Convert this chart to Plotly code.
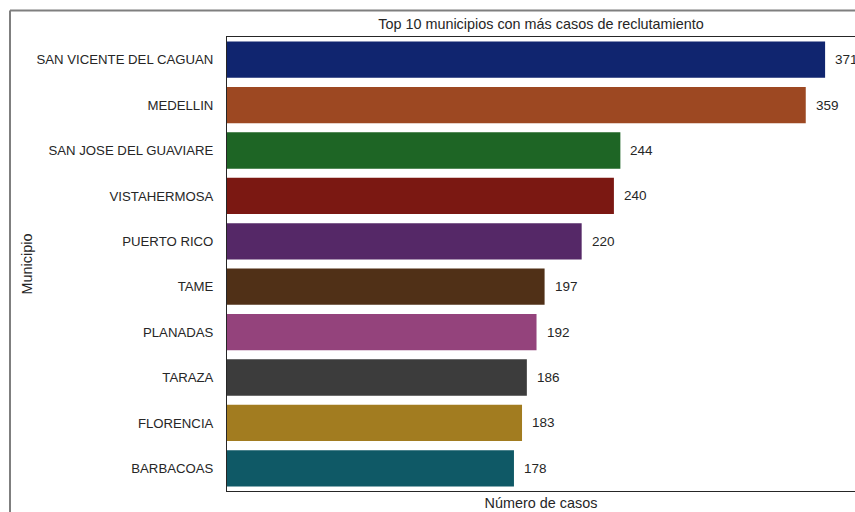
import plotly.graph_objects as go

municipios = ["SAN VICENTE DEL CAGUAN", "MEDELLIN", "SAN JOSE DEL GUAVIARE", "VISTAHERMOSA",
              "PUERTO RICO", "TAME", "PLANADAS", "TARAZA", "FLORENCIA", "BARBACOAS"]
casos = [371, 359, 244, 240, 220, 197, 192, 186, 183, 178]
colores = ["#10256f", "#9d4822", "#1e6525", "#7b1812", "#552867",
           "#503017", "#94437c", "#3c3c3c", "#a27c20", "#0f5966"]

W, H = 855, 512
L, T, B = 227, 37, 21
R = 0
pw = W - L - R
ph = H - T - B
font = "Liberation Sans, Arial, sans-serif"
ink = "#262626"

fig = go.Figure()
fig.add_trace(go.Bar(
    y=municipios, x=casos, orientation="h",
    marker=dict(color=colores, line=dict(width=0)),
    width=0.8, hoverinfo="skip",
))

for m, v in zip(municipios, casos):
    fig.add_annotation(x=v, y=m, xref="x", yref="y", text=str(v), showarrow=False,
                       xanchor="left", yanchor="middle", xshift=8,
                       font=dict(size=13.5, color=ink, family=font))

fig.update_layout(
    width=W, height=H,
    margin=dict(l=L, r=R, t=T, b=B, pad=0),
    plot_bgcolor="white", paper_bgcolor="white",
    showlegend=False,
    font=dict(family=font, size=13, color=ink),
    title=dict(text="Top 10 municipios con más casos de reclutamiento",
               x=(L + pw / 2) / W, xanchor="center", y=1 - 24 / H, yanchor="middle",
               font=dict(size=14.4, color=ink, family=font)),
    xaxis=dict(range=[0, 389.55], showticklabels=False, ticks="", showgrid=False,
               zeroline=False, showline=True, linecolor=ink, linewidth=1, mirror=True,
               title=dict(text="Número de casos", standoff=6, font=dict(size=14.4))),
    yaxis=dict(autorange="reversed", showgrid=False, zeroline=False, ticks="",
               showline=True, linecolor=ink, linewidth=1, mirror=True,
               ticklabelstandoff=10,
               tickfont=dict(size=13.2, color=ink),
               title=dict(text="Municipio", standoff=0, font=dict(size=14.4))),
    bargap=0.2,
)

# outer figure border (partially visible, as in the reference)
x0 = (10 - L) / pw
y1 = 1 + (T - 10.5) / ph
border = dict(color="#7f7f7f", width=2)
fig.add_shape(type="line", xref="paper", yref="paper", x0=x0, x1=1.05, y0=y1, y1=y1, line=border)
fig.add_shape(type="line", xref="paper", yref="paper", x0=x0, x1=x0, y0=-0.1, y1=y1, line=border)

fig.write_html("out.html", config={"displayModeBar": False},
               post_script="document.body.style.margin='0';document.body.style.overflow='hidden';")
